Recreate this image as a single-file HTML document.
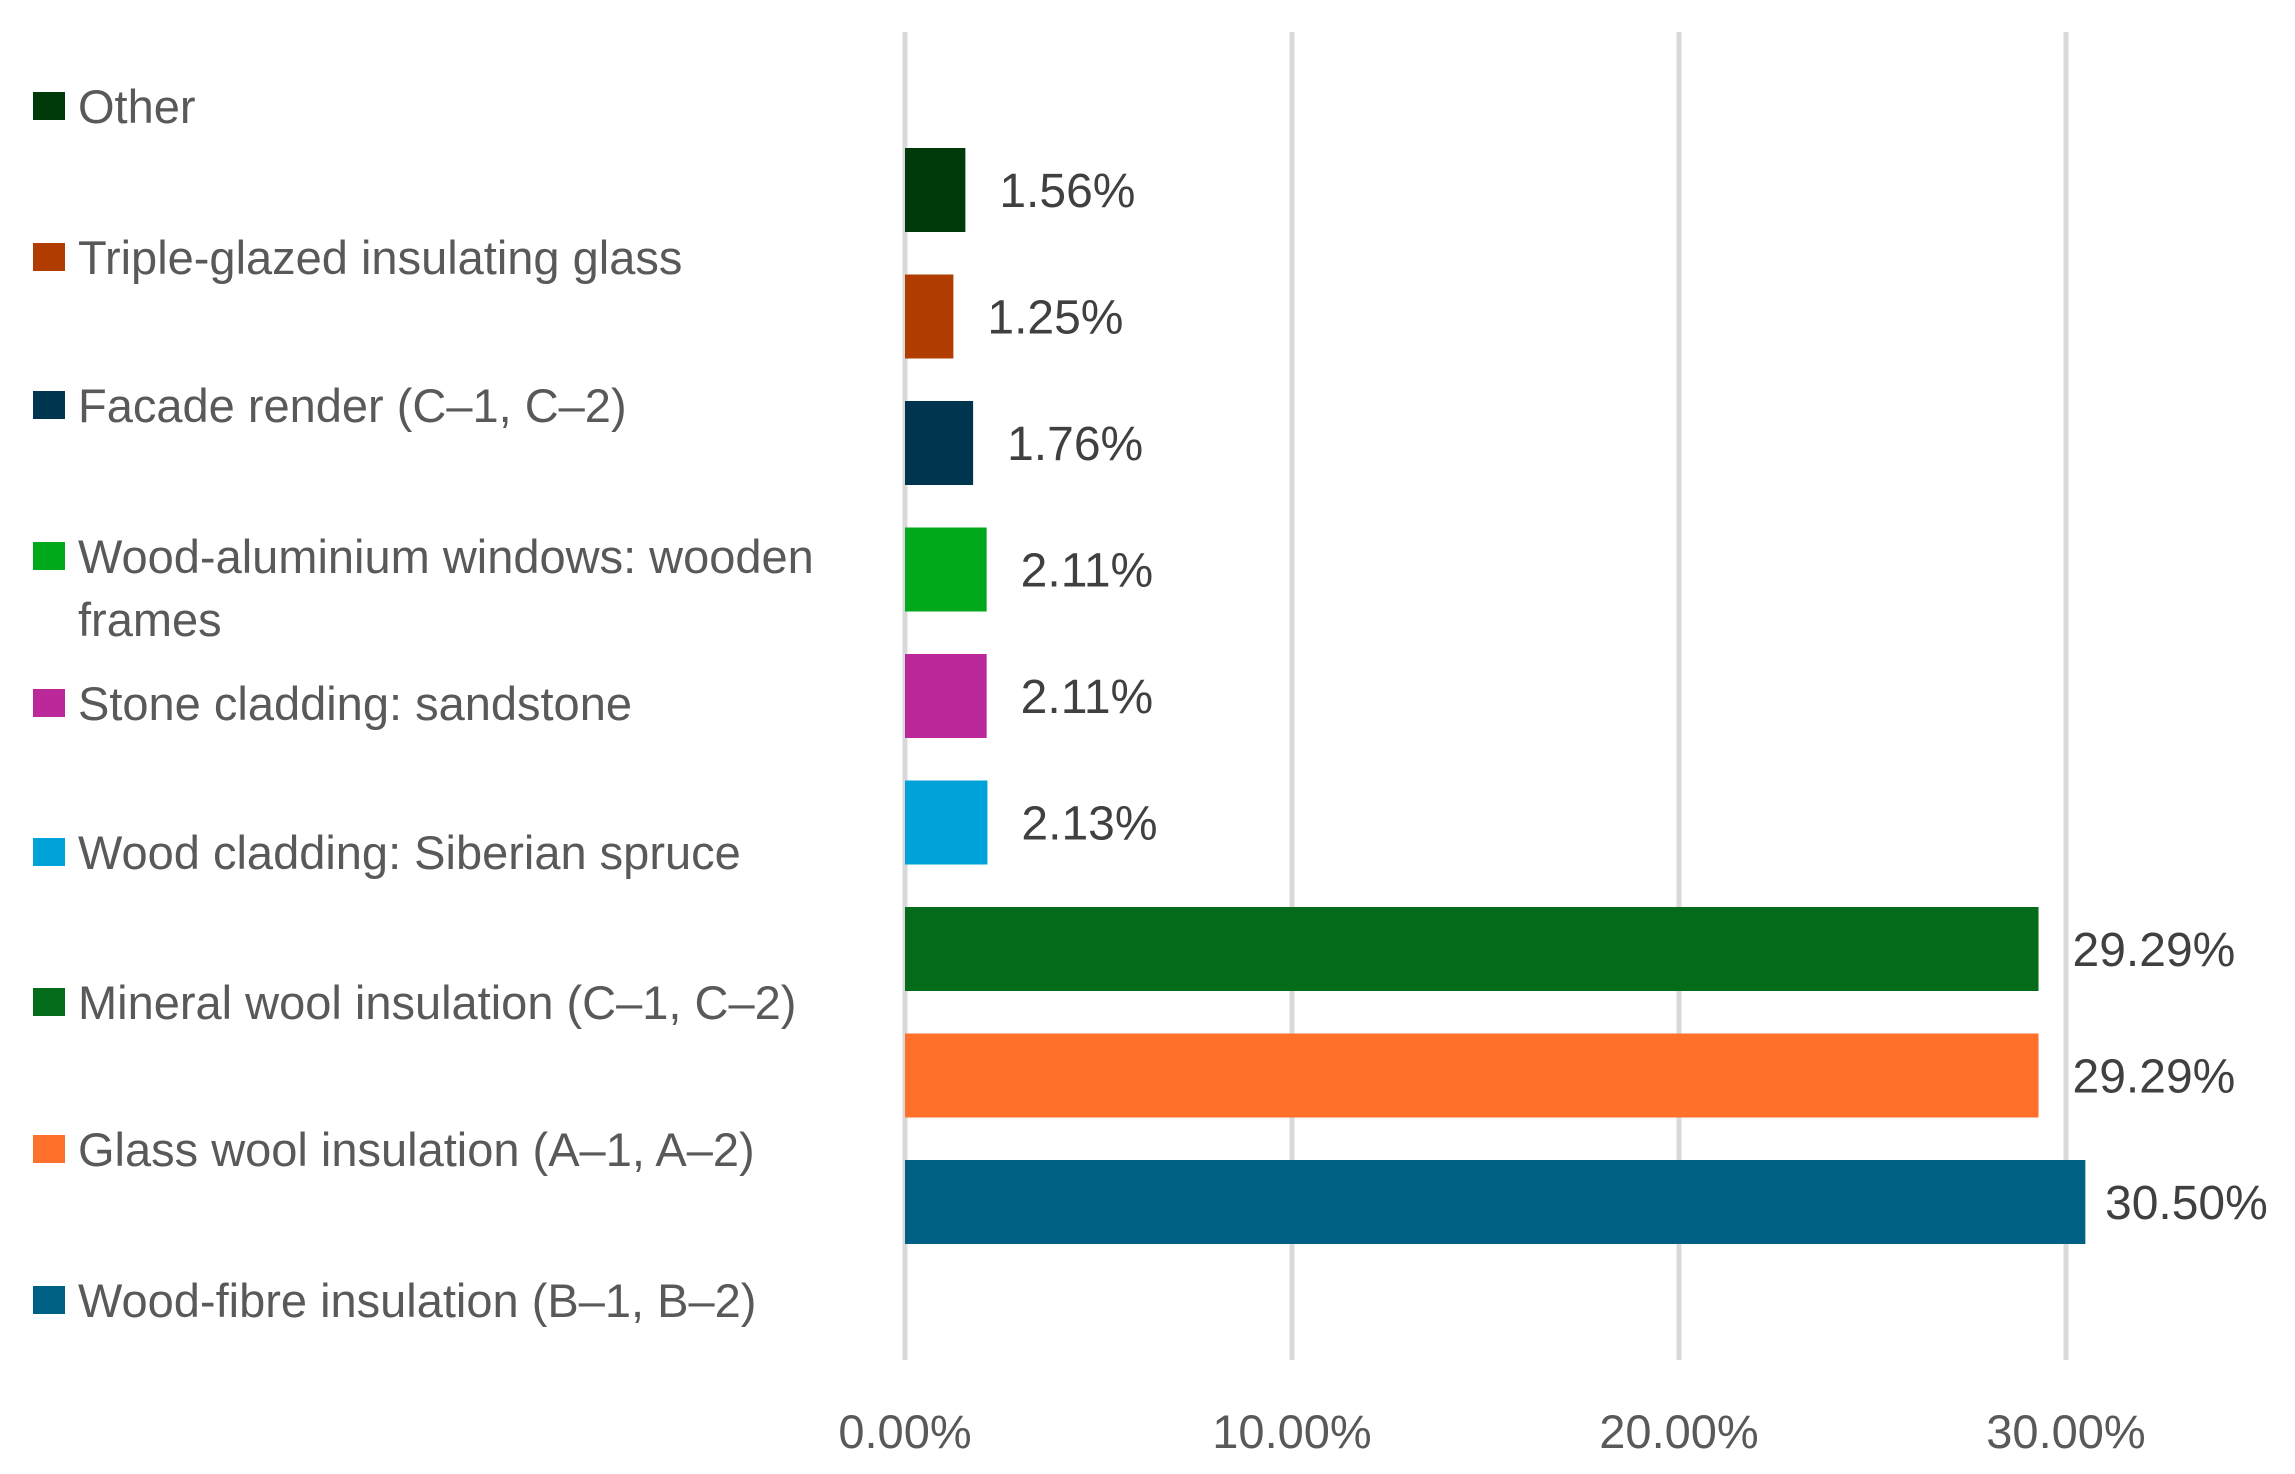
<!DOCTYPE html>
<html><head><meta charset="utf-8"><style>
html,body{margin:0;padding:0;background:#fff;}
svg{display:block;font-family:"Liberation Sans",sans-serif;}
</style></head><body>
<svg id="chart" width="2295" height="1474" viewBox="0 0 2295 1474" xmlns="http://www.w3.org/2000/svg">
<g id="grid"></g>
<g id="bars"></g>
<g id="vals"></g>
<g id="ticks"></g>
<g id="legend"></g>
</svg>
<script>
const categories = ["Other","Triple-glazed insulating glass","Facade render (C\u20131, C\u20132)","Wood-aluminium windows: wooden frames","Stone cladding: sandstone","Wood cladding: Siberian spruce","Mineral wool insulation (C\u20131, C\u20132)","Glass wool insulation (A\u20131, A\u20132)","Wood-fibre insulation (B\u20131, B\u20132)"];
const values = [1.56,1.25,1.76,2.11,2.11,2.13,29.29,29.29,30.50];
const valueLabels = ["1.56%","1.25%","1.76%","2.11%","2.11%","2.13%","29.29%","29.29%","30.50%"];
const colors = ["#003a0a","#b03c00","#003550","#00a81c","#bb2899","#00a3d9","#036b1a","#ff712b","#005f85"];
const tickValues = [0,10,20,30];
const tickLabels = ["0.00%","10.00%","20.00%","30.00%"];

const NS="http://www.w3.org/2000/svg";
const x0=905, pxPer=38.7, barTop=148, pitch=126.5, barH=84;
function xScale(v){return x0+v*pxPer;}
function yScale(i){return barTop+i*pitch;}
function mk(tag,attrs,parent){const e=document.createElementNS(NS,tag);for(const k in attrs)e.setAttribute(k,attrs[k]);parent.appendChild(e);return e;}
const grid=document.getElementById('grid'),bars=document.getElementById('bars'),vals=document.getElementById('vals'),ticks=document.getElementById('ticks'),legend=document.getElementById('legend');

tickValues.forEach((t,i)=>{
  const l=mk('line',{x1:xScale(t),x2:xScale(t),y1:32,y2:1360,stroke:'#d9d9d9','stroke-width':5},grid);
  
  
  const tx=mk('text',{x:xScale(t),y:1448,'text-anchor':'middle','font-size':47,fill:'#595959'},ticks);
  tx.textContent=tickLabels[i];
  
  
});

values.forEach((v,i)=>{
  const y=yScale(i);
  const r=mk('rect',{x:x0,y:y,width:xScale(v)-x0,height:barH,fill:colors[i]},bars);
  
  
  let tx=xScale(v)+34;
  const w=valueLabels[i].length*30.5;
  if(tx+w>2288) tx=2288-w;
  const t=mk('text',{x:tx,y:y+barH/2+17,'font-size':48,fill:'#404040'},vals);
  t.textContent=valueLabels[i];
  
  
});

const legendY=[106,257,405,556,703,852,1002,1149,1300];
categories.forEach((c,i)=>{
  const g=mk('g',{},legend);
  
  
  mk('rect',{x:33,y:legendY[i]-14,width:32,height:28,fill:colors[i]},g);
  const t=mk('text',{x:78,y:legendY[i]+17,'font-size':47,fill:'#595959'},g);
  if(c.startsWith('Wood-aluminium')){
    t.textContent='Wood-aluminium windows: wooden';
    const t2=mk('text',{x:78,y:legendY[i]+80,'font-size':47,fill:'#595959'},g);
    t2.textContent='frames';
  } else t.textContent=c;
});
</script>
</body></html>
